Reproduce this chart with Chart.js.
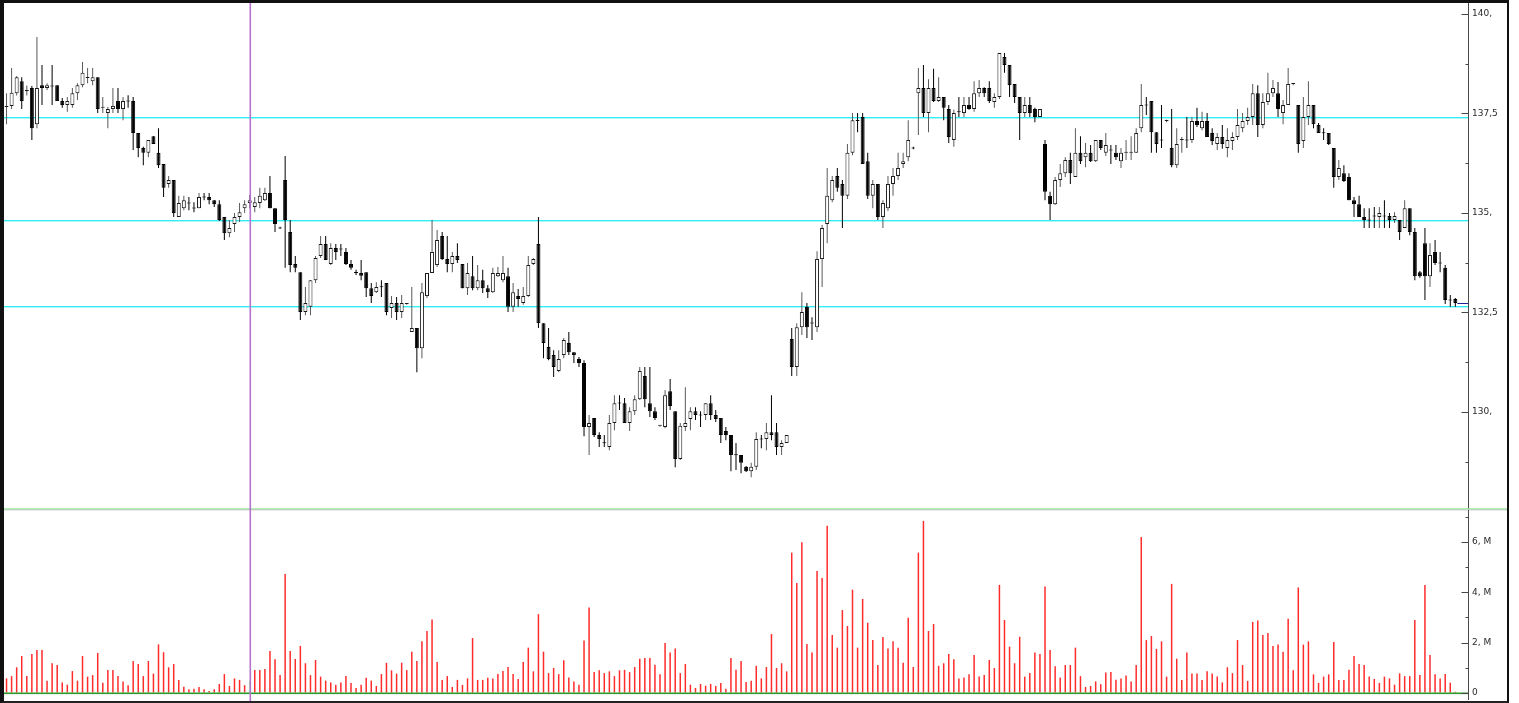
<!DOCTYPE html>
<html>
<head>
<meta charset="utf-8">
<script src="https://cdn.jsdelivr.net/npm/chart.js@4.4.0/dist/chart.umd.min.js"></script>
<style>
html,body{margin:0;padding:0;background:#fff;width:1519px;height:703px;overflow:hidden}
canvas{position:absolute;left:0}
#priceCanvas{top:0}
#volumeCanvas{top:508px}
#frame{position:absolute;left:0;top:0;width:1503px;height:698px;border-left:4px solid #111;border-top:3px solid #111;border-right:2px solid #111;border-bottom:2px solid #222;z-index:5;pointer-events:none}
</style>
</head>
<body>
<canvas id="priceCanvas" width="1519" height="510"></canvas>
<canvas id="volumeCanvas" width="1519" height="195"></canvas>
<div id="frame"></div>
<script>
// ---- data ----
const open = [
137.66,137.69,138.01,138.31,138.06,138.14,137.23,138.21,138.14,138.19,
138.21,137.81,137.71,137.71,138.01,138.21,138.39,138.31,138.41,137.64,
137.51,137.61,137.81,137.61,137.81,137.81,137.01,136.63,136.51,136.93,
136.51,136.23,135.73,135.83,134.90,135.12,135.25,135.12,135.12,135.40,
135.40,135.32,135.22,134.90,134.49,134.72,134.90,135.12,135.25,135.15,
135.25,135.32,135.50,135.12,134.62,135.83,134.52,133.72,133.51,132.51,
132.64,133.31,133.92,134.22,133.72,134.12,134.09,134.02,133.72,133.50,
133.49,133.51,133.11,133.01,133.14,133.24,132.61,132.74,132.51,132.71,
132.01,132.11,131.60,132.91,133.49,133.69,134.42,133.84,133.72,133.92,
133.72,133.11,133.41,133.11,133.31,133.11,133.01,133.41,133.31,133.41,
132.64,132.91,132.74,132.91,133.72,134.22,132.23,131.63,131.43,131.03,
131.43,131.73,131.50,131.33,131.23,129.62,129.85,129.42,129.22,129.12,
129.72,130.22,130.22,129.72,130.02,130.32,130.90,130.22,130.02,129.65,
129.62,130.52,130.02,128.82,129.62,129.82,130.02,129.92,129.92,130.22,
129.92,129.85,129.52,129.42,128.92,128.92,128.62,128.51,128.62,129.32,
129.32,129.49,129.49,129.12,129.22,131.83,131.13,132.13,132.64,132.23,
132.13,133.84,134.72,135.32,135.93,135.73,135.43,136.51,137.33,137.41,
136.30,135.43,135.73,134.90,135.12,135.73,135.93,136.23,136.40,136.63,
138.01,138.14,137.51,138.14,137.81,137.91,137.61,136.83,137.54,137.51,
137.71,137.61,138.01,138.14,138.14,137.79,137.91,138.92,138.72,138.24,
137.91,137.51,137.71,137.61,137.41,136.73,135.43,135.22,135.83,136.00,
136.33,135.90,136.51,136.40,136.51,136.30,136.83,136.51,136.58,136.51,
136.30,136.51,136.51,136.51,137.13,137.71,137.81,137.03,136.83,137.31,
136.63,136.20,136.83,136.83,136.83,137.31,137.13,137.31,137.01,136.73,
136.91,136.63,136.81,136.91,137.13,137.31,137.41,138.01,137.21,137.79,
138.01,138.01,137.51,137.71,138.24,137.71,136.81,137.41,137.71,137.21,
137.01,137.01,136.63,135.90,136.00,135.90,135.32,135.22,134.90,134.82,
134.92,134.90,134.92,134.92,134.82,134.82,134.62,135.12,134.52,133.51,
134.24,133.41,134.02,133.74,133.62,132.81,132.84];

const high = [
138.01,138.64,138.44,138.41,138.20,138.19,139.42,138.72,138.26,138.72,
138.21,137.89,137.91,138.14,138.26,138.79,138.64,138.64,138.41,137.91,
137.66,138.14,138.14,137.91,137.96,137.91,137.01,136.66,136.83,136.93,
137.13,136.23,135.93,135.83,135.43,135.43,135.40,135.27,135.50,135.50,
135.50,135.32,135.32,134.90,134.82,135.00,135.25,135.32,135.45,135.40,
135.63,135.63,135.93,135.12,134.65,136.43,134.82,133.92,133.51,133.14,
133.31,133.92,134.42,134.42,134.24,134.22,134.22,134.12,133.82,133.57,
133.82,133.51,133.24,133.26,133.31,133.24,132.91,132.89,132.94,132.74,
133.14,132.11,133.24,133.49,134.82,134.57,134.52,134.42,134.02,134.24,
133.72,133.74,133.92,133.69,133.57,133.19,133.62,133.64,133.92,133.62,
133.24,133.09,133.14,133.92,133.87,134.90,132.23,132.11,131.55,131.55,
131.86,132.01,131.50,131.38,131.30,129.92,129.85,129.49,129.42,129.92,
130.42,130.42,130.35,130.12,130.42,131.13,131.13,131.13,130.12,129.67,
130.55,130.83,130.02,129.72,130.62,130.12,130.12,130.02,130.22,130.42,
130.05,129.85,129.62,129.42,129.22,128.92,128.64,128.72,129.49,129.42,
129.72,130.42,129.72,129.29,129.42,132.11,132.23,133.01,132.74,132.38,
134.04,134.70,136.13,135.93,136.13,135.83,136.73,137.51,137.51,137.51,
136.51,135.83,135.73,135.32,135.93,136.13,136.51,136.51,137.33,136.66,
138.64,138.72,138.36,138.62,138.41,137.91,137.71,137.59,137.91,137.91,
137.91,138.31,138.34,138.16,138.31,138.01,139.02,139.02,138.72,138.24,
137.91,137.91,137.91,137.64,137.61,136.83,135.53,135.90,136.23,136.40,
136.51,137.13,136.93,136.76,136.71,136.83,136.83,137.01,136.71,136.71,
136.63,136.83,136.93,137.13,138.24,137.91,137.81,137.03,137.71,137.34,
137.61,137.13,136.91,137.41,137.41,137.64,137.54,137.51,137.13,137.01,
137.21,137.13,137.03,137.61,137.51,137.64,138.24,138.21,138.01,138.52,
138.34,138.29,137.84,138.64,138.26,137.71,137.91,138.31,137.71,137.26,
137.13,137.01,136.63,136.33,136.20,136.00,135.40,135.43,135.12,135.12,
135.15,135.15,135.32,135.00,135.02,134.82,135.32,135.12,134.62,133.54,
134.62,134.24,134.32,134.02,133.69,132.94,132.86];

const low = [
137.23,137.61,137.95,137.61,137.95,136.83,137.13,137.71,138.09,137.71,
137.81,137.64,137.54,137.64,137.84,138.16,138.26,138.21,137.51,137.51,
137.13,137.51,137.51,137.33,137.64,136.58,136.40,136.20,136.40,136.73,
136.13,135.40,135.63,134.90,134.90,135.07,135.07,135.02,135.12,135.32,
135.22,135.15,134.80,134.32,134.39,134.52,134.77,135.00,135.12,135.02,
135.12,135.30,135.12,134.52,134.60,133.62,133.51,133.51,132.31,132.43,
132.43,133.24,133.87,133.82,133.69,133.82,133.92,133.69,133.57,133.44,
133.31,132.89,132.74,132.99,132.89,132.43,132.36,132.31,132.36,132.69,
132.01,131.00,131.35,132.86,133.49,133.64,133.82,133.51,133.51,133.74,
133.11,132.94,133.06,133.06,132.99,132.86,132.99,133.39,133.26,132.51,
132.51,132.64,132.69,132.89,133.69,132.11,131.35,131.30,130.88,131.00,
131.35,131.43,131.23,131.13,129.39,128.92,129.37,129.12,129.12,129.04,
129.54,130.05,129.72,129.52,129.92,130.30,130.12,129.87,129.80,129.63,
129.59,130.05,128.61,128.79,129.52,129.54,129.80,129.62,129.80,129.80,
129.75,129.22,129.29,128.51,128.54,128.46,128.49,128.36,128.54,129.09,
129.04,129.29,128.92,128.92,129.22,130.90,130.90,131.93,131.86,131.81,
132.01,133.14,134.24,135.27,135.53,134.62,135.35,136.45,137.03,136.23,
135.35,135.12,134.82,134.62,135.05,135.43,135.83,136.13,136.30,136.60,
136.96,137.41,137.03,137.79,137.79,137.33,136.76,136.66,137.41,137.41,
137.59,137.54,137.91,137.91,137.76,137.64,137.86,138.52,137.91,137.76,
136.83,137.41,137.41,137.28,137.41,135.32,134.82,135.20,135.65,135.90,
135.73,135.90,136.23,136.15,136.28,136.28,136.58,136.43,136.23,136.33,
136.13,136.33,136.33,136.51,137.03,137.46,136.51,136.51,136.63,137.28,
136.15,136.13,136.51,136.63,136.76,137.16,137.08,136.91,136.71,136.58,
136.61,136.40,136.58,136.83,137.03,137.21,137.21,136.91,137.13,137.71,
137.91,137.41,137.23,137.71,138.21,136.51,136.63,137.21,137.13,137.01,
136.83,136.71,135.63,135.83,135.78,135.32,134.90,134.90,134.62,134.62,
134.62,134.62,134.62,134.62,134.75,134.32,134.62,134.44,133.31,133.37,
132.81,133.14,133.69,133.51,132.71,132.64,132.64];

const close = [
137.69,138.02,138.41,137.81,138.09,137.13,138.14,138.14,138.21,138.18,
137.81,137.71,137.81,138.01,138.21,138.52,138.41,138.41,137.61,137.66,
137.61,137.69,137.61,137.81,137.80,137.01,136.63,136.51,136.83,136.73,
136.20,135.63,135.83,135.00,135.25,135.32,135.24,135.11,135.40,135.39,
135.32,135.22,134.82,134.49,134.62,134.90,135.02,135.22,135.32,135.27,
135.43,135.50,135.12,134.72,134.61,134.82,133.69,133.62,132.51,132.74,
133.31,133.87,134.22,133.82,134.12,134.02,134.08,133.72,133.62,133.49,
133.42,133.11,132.91,133.14,133.13,132.51,132.74,132.51,132.74,132.71,
132.11,131.60,133.01,133.49,134.02,134.32,133.84,133.72,133.92,133.82,
133.11,133.49,133.11,133.31,133.11,133.01,133.49,133.49,133.49,132.64,
133.01,132.84,132.91,133.69,133.84,132.23,131.73,131.33,131.13,131.33,
131.81,131.50,131.43,131.23,129.62,129.72,129.42,129.32,129.21,129.72,
130.22,130.21,129.72,130.02,130.32,131.03,130.32,130.02,129.85,129.65,
130.42,130.15,128.82,129.65,129.72,130.02,129.92,129.91,130.22,129.92,
129.82,129.42,129.42,128.92,128.91,128.72,128.51,128.62,129.32,129.31,
129.49,129.42,129.12,129.22,129.42,131.13,132.13,132.51,132.13,132.22,
133.84,134.62,135.43,135.83,135.63,135.43,136.51,137.33,137.31,136.23,
135.43,135.73,134.90,135.25,135.73,135.93,136.13,136.30,136.83,136.62,
138.14,137.51,138.14,137.81,137.91,137.64,136.91,137.51,137.53,137.71,
137.61,138.01,138.14,138.01,137.81,137.91,139.02,138.72,138.21,137.91,
137.51,137.71,137.51,137.41,137.61,135.53,135.22,135.83,136.00,136.33,
136.00,136.51,136.30,136.51,136.30,136.83,136.63,136.71,136.57,136.40,
136.51,136.52,136.52,137.01,137.71,137.70,137.03,136.73,136.82,137.32,
136.20,136.73,136.83,136.82,137.31,137.21,137.31,136.91,136.81,136.91,
136.73,136.83,136.91,137.21,137.31,137.41,138.01,137.21,137.79,138.01,
138.14,137.61,137.71,138.24,138.25,136.73,137.41,137.71,137.23,137.01,
137.00,136.73,135.90,136.13,135.80,135.32,135.22,134.90,134.82,134.81,
134.91,135.00,134.91,134.82,134.92,134.52,135.12,134.52,133.41,133.41,
133.41,133.94,133.74,133.73,132.81,132.80,132.74];

// volume in millions
const volume = [
0.58,0.67,1.02,1.47,0.67,1.55,1.71,1.71,0.49,1.18,
1.11,0.42,0.33,0.87,0.49,1.47,0.65,0.71,1.59,0.41,
0.91,0.91,0.67,0.46,0.31,1.27,1.15,0.67,1.27,0.77,
1.93,1.62,1.02,1.15,0.52,0.25,0.15,0.17,0.24,0.15,
0.08,0.15,0.36,0.75,0.28,0.58,0.52,0.31,0.48,0.91,
0.91,0.95,1.67,1.34,0.71,4.72,1.67,1.35,1.87,1.18,
0.71,1.31,0.65,0.49,0.42,0.33,0.42,0.67,0.40,0.20,
0.33,0.61,0.49,0.28,0.75,1.20,0.90,0.77,1.20,0.91,
1.64,1.27,2.05,2.46,2.92,1.23,0.52,0.67,0.24,0.52,
0.32,0.58,2.18,0.52,0.52,0.61,0.58,0.75,0.87,1.03,
0.75,0.56,1.23,1.80,0.86,3.13,1.64,0.79,0.99,0.75,
1.30,0.62,0.46,0.33,2.08,3.39,0.83,0.90,0.79,0.86,
0.67,0.90,0.92,0.83,1.03,1.36,1.39,1.39,1.12,0.74,
1.98,1.61,1.77,0.79,1.15,0.33,0.20,0.36,0.29,0.36,
0.28,0.40,0.17,1.39,0.92,1.27,0.44,0.49,1.08,0.58,
1.03,2.34,0.99,1.18,0.86,5.57,4.37,5.98,1.94,1.61,
4.84,4.56,6.64,2.30,1.80,3.29,2.66,4.10,1.80,3.73,
2.79,2.10,1.11,2.22,1.77,2.05,1.80,1.20,2.99,1.03,
5.57,6.83,2.46,2.74,1.08,1.18,1.55,1.34,0.58,0.62,
0.74,1.51,0.65,0.71,1.31,0.99,4.29,2.90,1.84,1.18,
2.23,0.65,0.79,1.61,1.55,4.23,1.71,1.06,0.62,1.11,
1.11,1.80,0.67,0.24,0.28,0.46,0.35,0.81,0.83,0.53,
0.58,0.69,0.46,1.11,6.19,2.10,2.26,1.75,2.05,0.65,
4.33,1.36,0.52,1.61,0.77,0.77,0.52,0.86,0.77,0.65,
0.42,1.02,0.79,2.10,1.11,0.48,2.82,2.88,2.30,2.38,
1.87,1.92,1.64,2.95,0.90,4.19,1.92,2.05,0.74,0.40,
0.65,0.74,2.02,0.52,0.52,0.92,1.47,1.15,1.11,0.65,
0.56,0.40,0.65,0.58,0.33,0.78,0.67,0.67,2.90,0.71,
4.29,1.51,0.74,0.58,0.75,0.41,0.05];

const levels = [137.40, 134.82, 132.64];          // horizontal cyan lines
const priceTicks = [130, 132.5, 135, 137.5, 140];
const priceMinorTicks = [128.75, 131.25, 133.75, 136.25, 138.75];
const volumeTicks = [0, 2, 4, 6];
const volumeMinorTicks = [1, 3, 5, 7];
const cursorIndex = 48;                            // vertical purple cursor
const emptySlots = 2;                              // free slots right of the last bar

// ---- helpers ----
const slots = Array.from({length: open.length + emptySlots}, (_, i) => String(i));
const isUp = open.map((o, i) => close[i] >= o);
const FONT = {family: 'DejaVu Sans', size: 9};

function axisMarks(chart, major, minor) {
  const {ctx, scales: {y}} = chart;
  const ax = Math.round(y.left) + 0.5;
  ctx.save();
  ctx.strokeStyle = '#444';
  ctx.lineWidth = 1;
  ctx.beginPath();
  for (const v of major) { const py = Math.round(y.getPixelForValue(v)) + 0.5; ctx.moveTo(ax - 7, py); ctx.lineTo(ax, py); }
  for (const v of minor) { const py = Math.round(y.getPixelForValue(v)) + 0.5; ctx.moveTo(ax - 3, py); ctx.lineTo(ax, py); }
  ctx.stroke();
  ctx.restore();
}
function cursorLine(chart, y0) {
  const {ctx, scales: {x}} = chart;
  const px = Math.round(x.getPixelForValue(cursorIndex));
  ctx.save();
  ctx.fillStyle = '#b673cc';
  ctx.fillRect(px - 0.5, y0, 1.6, chart.height - y0);
  ctx.restore();
}

const pricePlugin = {
  id: 'priceOverlay',
  beforeDatasetsDraw(chart) {
    const {ctx, chartArea: a, scales: {y}} = chart;
    ctx.save();
    ctx.fillStyle = '#30eef4';
    for (const lv of levels) {
      const py = Math.floor(y.getPixelForValue(lv));
      ctx.fillRect(a.left, py, a.right - a.left, 1.4);
    }
    ctx.restore();
  },
  afterDatasetsDraw(chart) {
    const {ctx, chartArea: a, scales: {x, y}} = chart;
    cursorLine(chart, a.top);
    // last price marker
    const last = close.length - 1;
    const py = Math.round(y.getPixelForValue(close[last])) + 0.5;
    ctx.save();
    ctx.strokeStyle = '#23238f';
    ctx.lineWidth = 1;
    ctx.beginPath(); ctx.moveTo(x.getPixelForValue(last) + 2, py); ctx.lineTo(a.right, py); ctx.stroke();
    ctx.restore();
  },
  afterDraw(chart) { axisMarks(chart, priceTicks, priceMinorTicks); }
};

const volumePlugin = {
  id: 'volumeOverlay',
  beforeDraw(chart) {
    const {ctx} = chart;
    ctx.save();
    ctx.fillStyle = '#8fe98f';
    ctx.fillRect(4, 0.3, 1503, 1.2);
    ctx.fillStyle = '#b5b5b5';
    ctx.fillRect(4, 1.5, 1503, 0.8);
    ctx.restore();
  },
  afterDatasetsDraw(chart) {
    const {ctx, chartArea: a, scales: {y}} = chart;
    const y0 = Math.round(y.getPixelForValue(0));
    ctx.save();
    ctx.fillStyle = '#2a9a2a';
    ctx.fillRect(a.left, y0 - 0.5, a.right - a.left, 1.6);
    ctx.restore();
    cursorLine(chart, 0);
  },
  afterDraw(chart) { axisMarks(chart, volumeTicks, volumeMinorTicks); }
};

function yAxis(min, max, ticks, fmt) {
  return {
    position: 'right', min, max,
    afterFit(a) { a.width = 51; a.paddingTop = 0; a.paddingBottom = 0; },
    afterBuildTicks(a) { a.ticks = ticks.map(v => ({value: v})); },
    ticks: {callback: fmt, font: FONT, color: '#2a2a2a', padding: 4, autoSkip: false},
    grid: {drawOnChartArea: false, drawTicks: false},
    border: {display: true, color: '#4a4a4a', width: 1}
  };
}
const common = {
  responsive: false, animation: false, events: [],
  plugins: {legend: {display: false}, tooltip: {enabled: false}}
};

new Chart(document.getElementById('priceCanvas'), {
  type: 'bar',
  data: {
    labels: slots,
    datasets: [
      {
        label: 'body',
        data: open.map((o, i) => [Math.min(o, close[i]), Math.max(o, close[i])]),
        backgroundColor: isUp.map(u => u ? '#ffffff' : '#000000'),
        borderColor: isUp.map(u => u ? '#1a1a1a' : '#000000'),
        borderWidth: 1, borderSkipped: false, barThickness: 4, minBarLength: 1,
        inflateAmount: 0, grouped: false, order: 0
      },
      {
        label: 'wick',
        data: low.map((l, i) => [l, high[i]]),
        backgroundColor: isUp.map(u => u ? '#5a5a5a' : '#000000'),
        borderWidth: 0, barThickness: 1, minBarLength: 1,
        inflateAmount: 0, grouped: false, order: 1
      }
    ]
  },
  options: Object.assign({}, common, {
    layout: {padding: {left: 4, right: 0, top: 3, bottom: 2}},
    scales: {
      x: {display: false, offset: true},
      y: yAxis(127.586, 140.275, priceTicks, v => { const s = String(v).replace('.', ','); return s.includes(',') ? s : s + ','; })
    }
  }),
  plugins: [pricePlugin]
});

new Chart(document.getElementById('volumeCanvas'), {
  type: 'bar',
  data: {
    labels: slots,
    datasets: [{
      label: 'volume',
      data: volume,
      backgroundColor: volume.map((_, i) => i === cursorIndex ? '#a9f0a9' : '#ff2c2c'),
      borderWidth: 0, barThickness: 1.5, inflateAmount: 0
    }]
  },
  options: Object.assign({}, common, {
    layout: {padding: {left: 4, right: 0, top: 2, bottom: 4}},
    scales: {
      x: {display: false, offset: true},
      y: yAxis(-0.238, 7.262, volumeTicks, v => v === 0 ? '0' : v + ', M')
    }
  }),
  plugins: [volumePlugin]
});
</script>
</body>
</html>
